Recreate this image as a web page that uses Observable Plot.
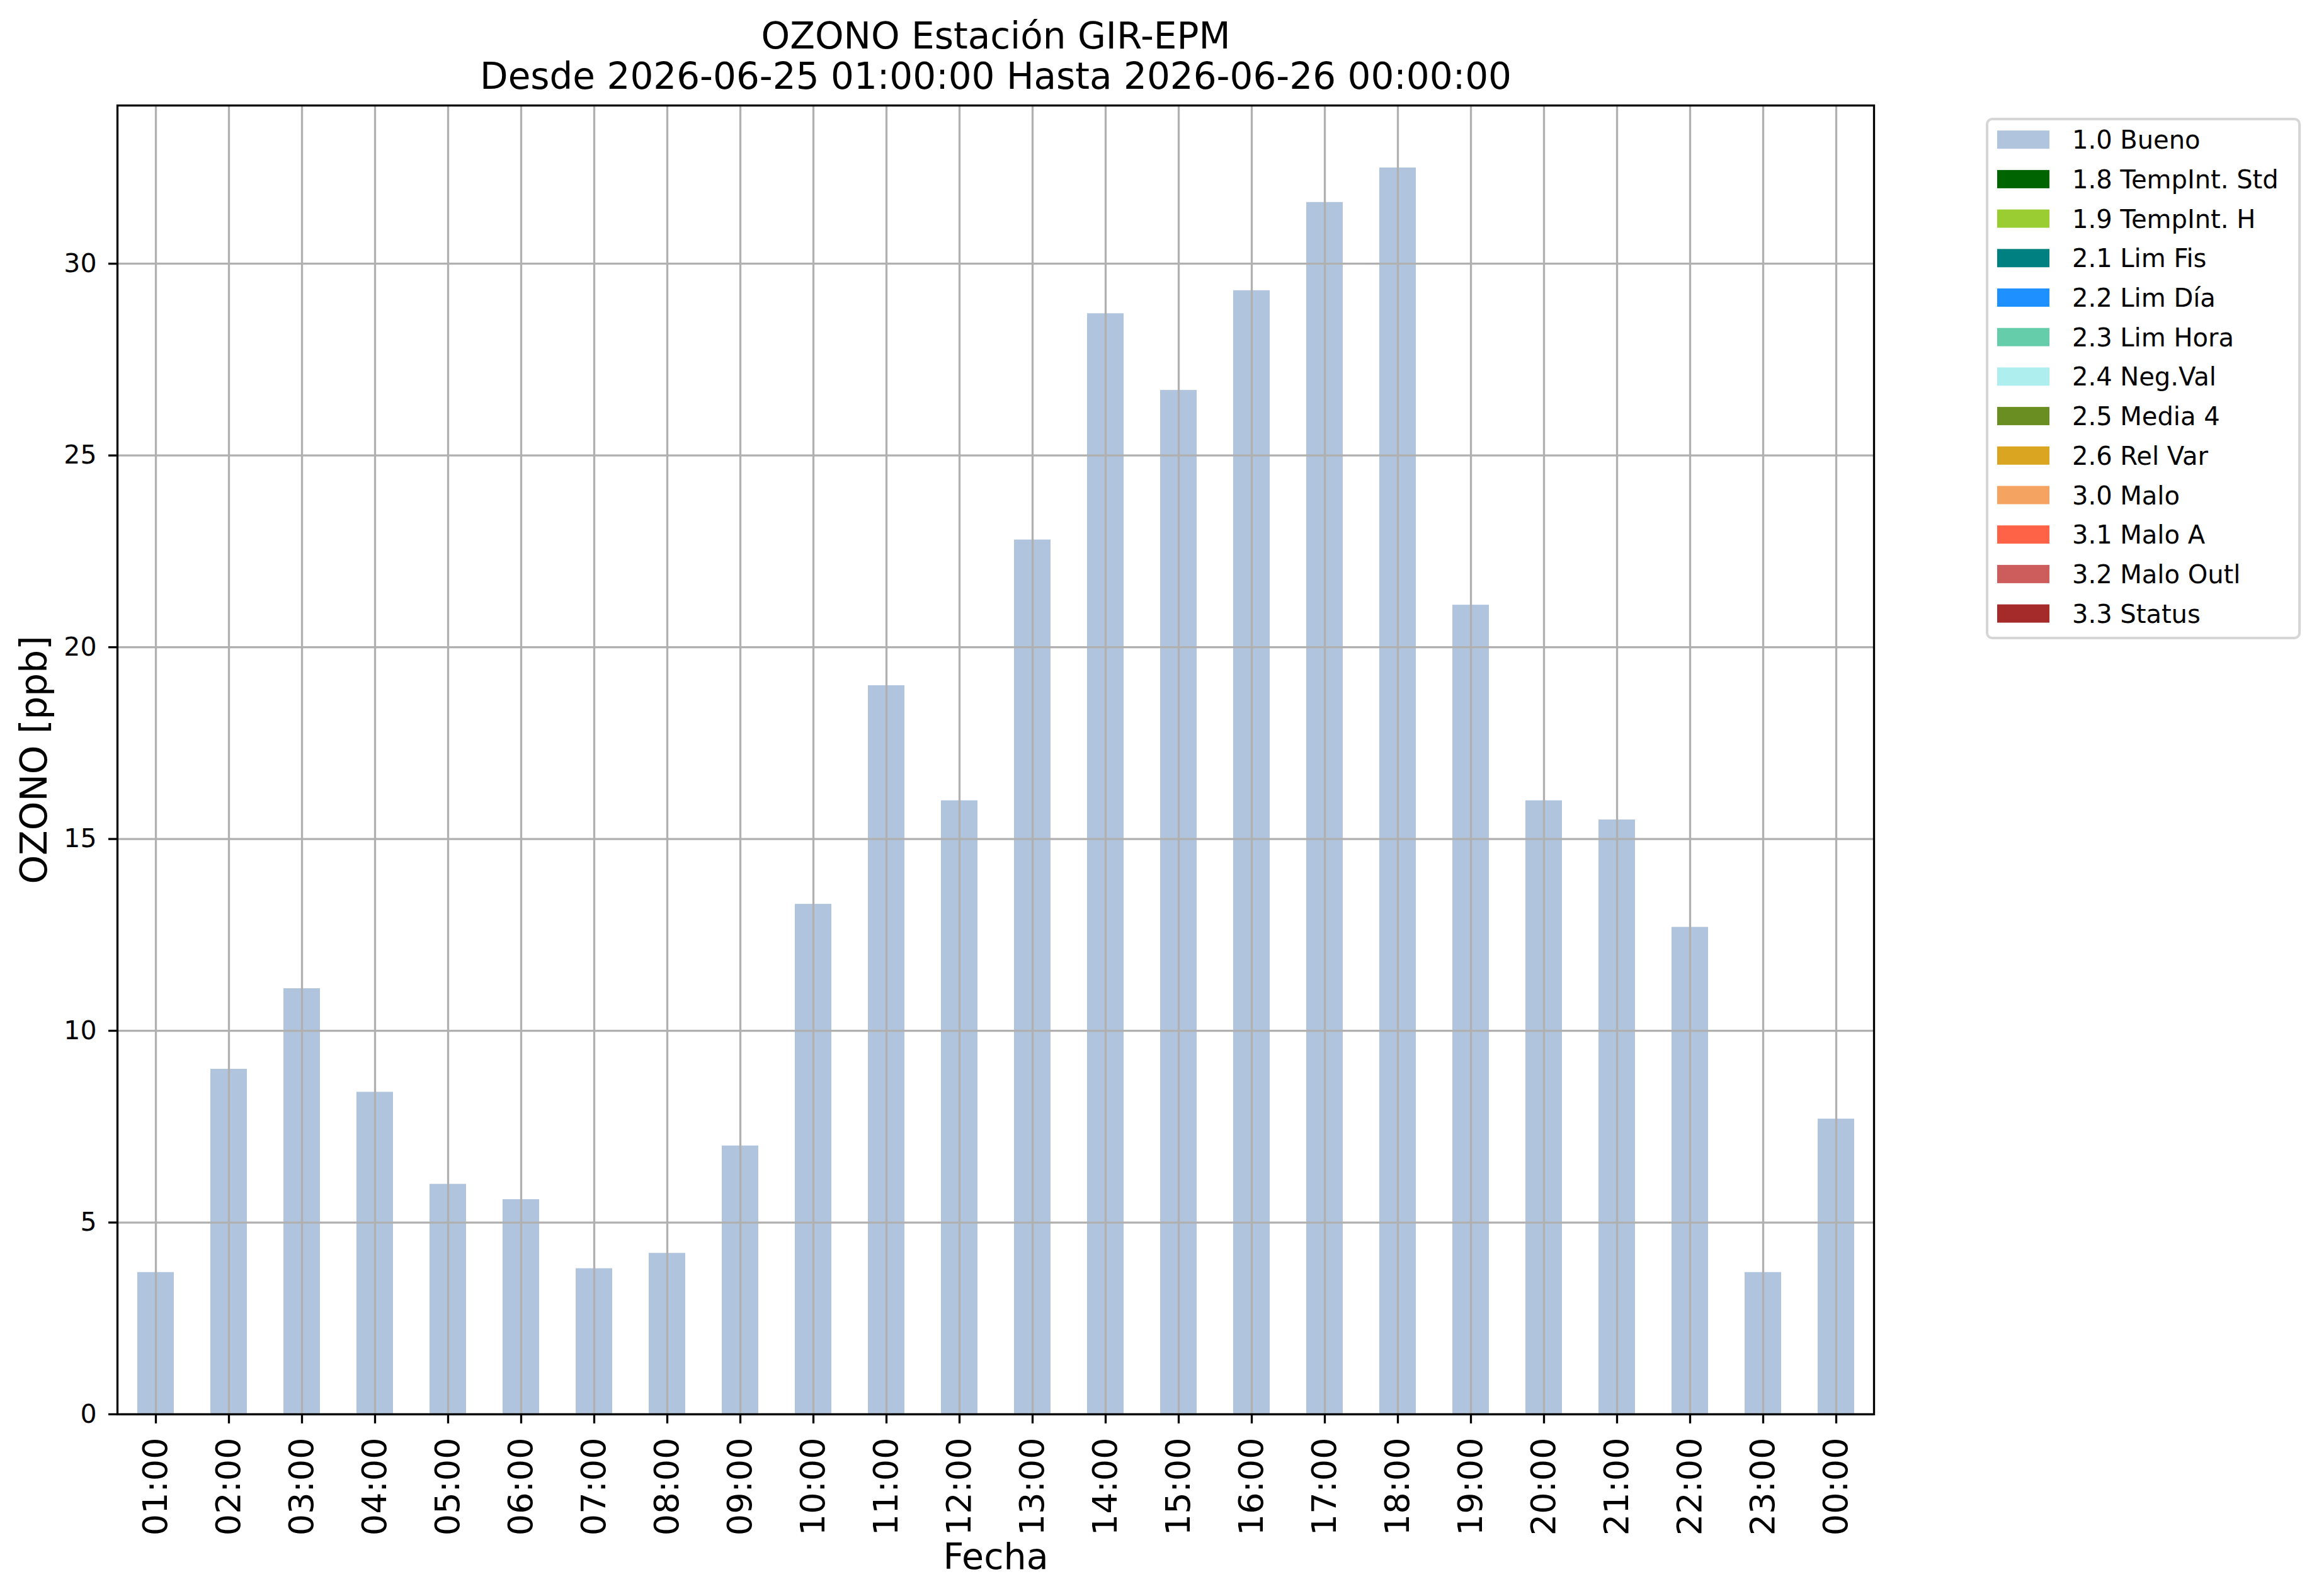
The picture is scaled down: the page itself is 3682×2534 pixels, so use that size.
<!DOCTYPE html>
<html>
<head>
<meta charset="utf-8">
<script src="https://cdn.jsdelivr.net/npm/d3@7"></script>
<script src="https://cdn.jsdelivr.net/npm/@observablehq/plot@0.6"></script>
<style>
  html, body { margin: 0; padding: 0; background: white; }
  #wrap { position: relative; width: 3682px; height: 2534px; background: white; font-family: "DejaVu Sans", sans-serif; }
  #legend { position: absolute; left: 3153px; top: 187px; }
</style>
</head>
<body>
<div id="wrap"><div id="chart"></div><div id="legend"></div></div>
<script>
// ---- data ----
const hours = ["01:00","02:00","03:00","04:00","05:00","06:00","07:00","08:00","09:00","10:00","11:00","12:00",
               "13:00","14:00","15:00","16:00","17:00","18:00","19:00","20:00","21:00","22:00","23:00","00:00"];
const ozone = [3.7, 9.0, 11.1, 8.4, 6.0, 5.6, 3.8, 4.2, 7.0, 13.3, 19.0, 16.0,
               22.8, 28.7, 26.7, 29.3, 31.6, 32.5, 21.1, 16.0, 15.5, 12.7, 3.7, 7.7];
const yTicks = [0, 5, 10, 15, 20, 25, 30];
const legendLabels = ["1.0 Bueno","1.8 TempInt. Std","1.9 TempInt. H","2.1 Lim Fis","2.2 Lim Día","2.3 Lim Hora",
                      "2.4 Neg.Val","2.5 Media 4","2.6 Rel Var","3.0 Malo","3.1 Malo A","3.2 Malo Outl","3.3 Status"];
const legendColors = ["#b0c4de","#006400","#9acd32","#008080","#1e90ff","#66cdaa",
                      "#afeeee","#6b8e23","#daa520","#f4a460","#ff6347","#cd5c5c","#a52a2a"];
const titleLine1 = "OZONO Estación GIR-EPM";
const titleLine2 = "Desde 2026-06-25 01:00:00 Hasta 2026-06-26 00:00:00";
const xLabel = "Fecha";
const yLabel = "OZONO [ppb]";

const rows = hours.map((h, i) => ({hour: h, value: ozone[i]}));
const yMax = d3.max(ozone) * 1.05;

const W = 3682, H = 2534;
const mL = 186, mR = 707, mT = 167, mB = 289;
const lw = 3.3;
const font = "DejaVu Sans";

const chart = Plot.plot({
  width: W,
  height: H,
  marginLeft: mL,
  marginRight: mR,
  marginTop: mT,
  marginBottom: mB,
  style: {fontFamily: font, background: "white", color: "black", overflow: "visible"},
  x: {type: "band", domain: hours, paddingInner: 0.5, paddingOuter: 0.25, align: 0.5, label: null},
  y: {domain: [0, yMax], label: null},
  marks: [
    Plot.barY(rows, {x: "hour", y: "value", fill: "#b0c4de"}),
    Plot.gridX({stroke: "#b0b0b0", strokeOpacity: 1, strokeWidth: lw}),
    Plot.gridY({ticks: yTicks, stroke: "#b0b0b0", strokeOpacity: 1, strokeWidth: lw}),
    Plot.frame({stroke: "black", strokeWidth: lw}),
    Plot.axisX({tickRotate: -90, tickSize: 15, tickPadding: 22, fontSize: 54, strokeWidth: lw, label: null, fontFamily: font}),
    Plot.axisY({ticks: yTicks, tickSize: 14, tickPadding: 19, fontSize: 41, strokeWidth: lw, label: null, fontFamily: font}),
    Plot.text([titleLine1], {frameAnchor: "top", textAnchor: "middle", lineAnchor: "bottom", dy: 76 - mT, fontSize: 58, fill: "black"}),
    Plot.text([titleLine2], {frameAnchor: "top", textAnchor: "middle", lineAnchor: "bottom", dy: 140 - mT, fontSize: 58, fill: "black"}),
    Plot.text([xLabel], {frameAnchor: "bottom", textAnchor: "middle", lineAnchor: "bottom", dy: 2490 - (H - mB), fontSize: 57, fill: "black"}),
    Plot.text([yLabel], {frameAnchor: "left", textAnchor: "middle", lineAnchor: "bottom", rotate: -90, dx: 73 - mL, fontSize: 58, fill: "black"})
  ]
});
document.getElementById("chart").appendChild(chart);

// ---- legend ----
const lgW = 500, lgH = 828, rowPitch = 62.7, firstCenter = 34.7;
const lg = d3.select("#legend").append("svg")
  .attr("width", lgW).attr("height", lgH)
  .style("font-family", font);
lg.append("rect")
  .attr("x", 2).attr("y", 2).attr("width", lgW - 4).attr("height", lgH - 4)
  .attr("rx", 8).attr("fill", "white").attr("stroke", "#d6d6d6").attr("stroke-width", 4);
const items = lg.selectAll("g.item").data(legendLabels).join("g")
  .attr("transform", (d, i) => `translate(0,${firstCenter + i * rowPitch})`);
items.append("rect")
  .attr("x", 18).attr("y", -14.5).attr("width", 83).attr("height", 29)
  .attr("fill", (d, i) => legendColors[i]);
items.append("text")
  .attr("x", 137).attr("y", 14.5)
  .attr("font-size", 40).attr("fill", "black")
  .text(d => d);
</script>
</body>
</html>
